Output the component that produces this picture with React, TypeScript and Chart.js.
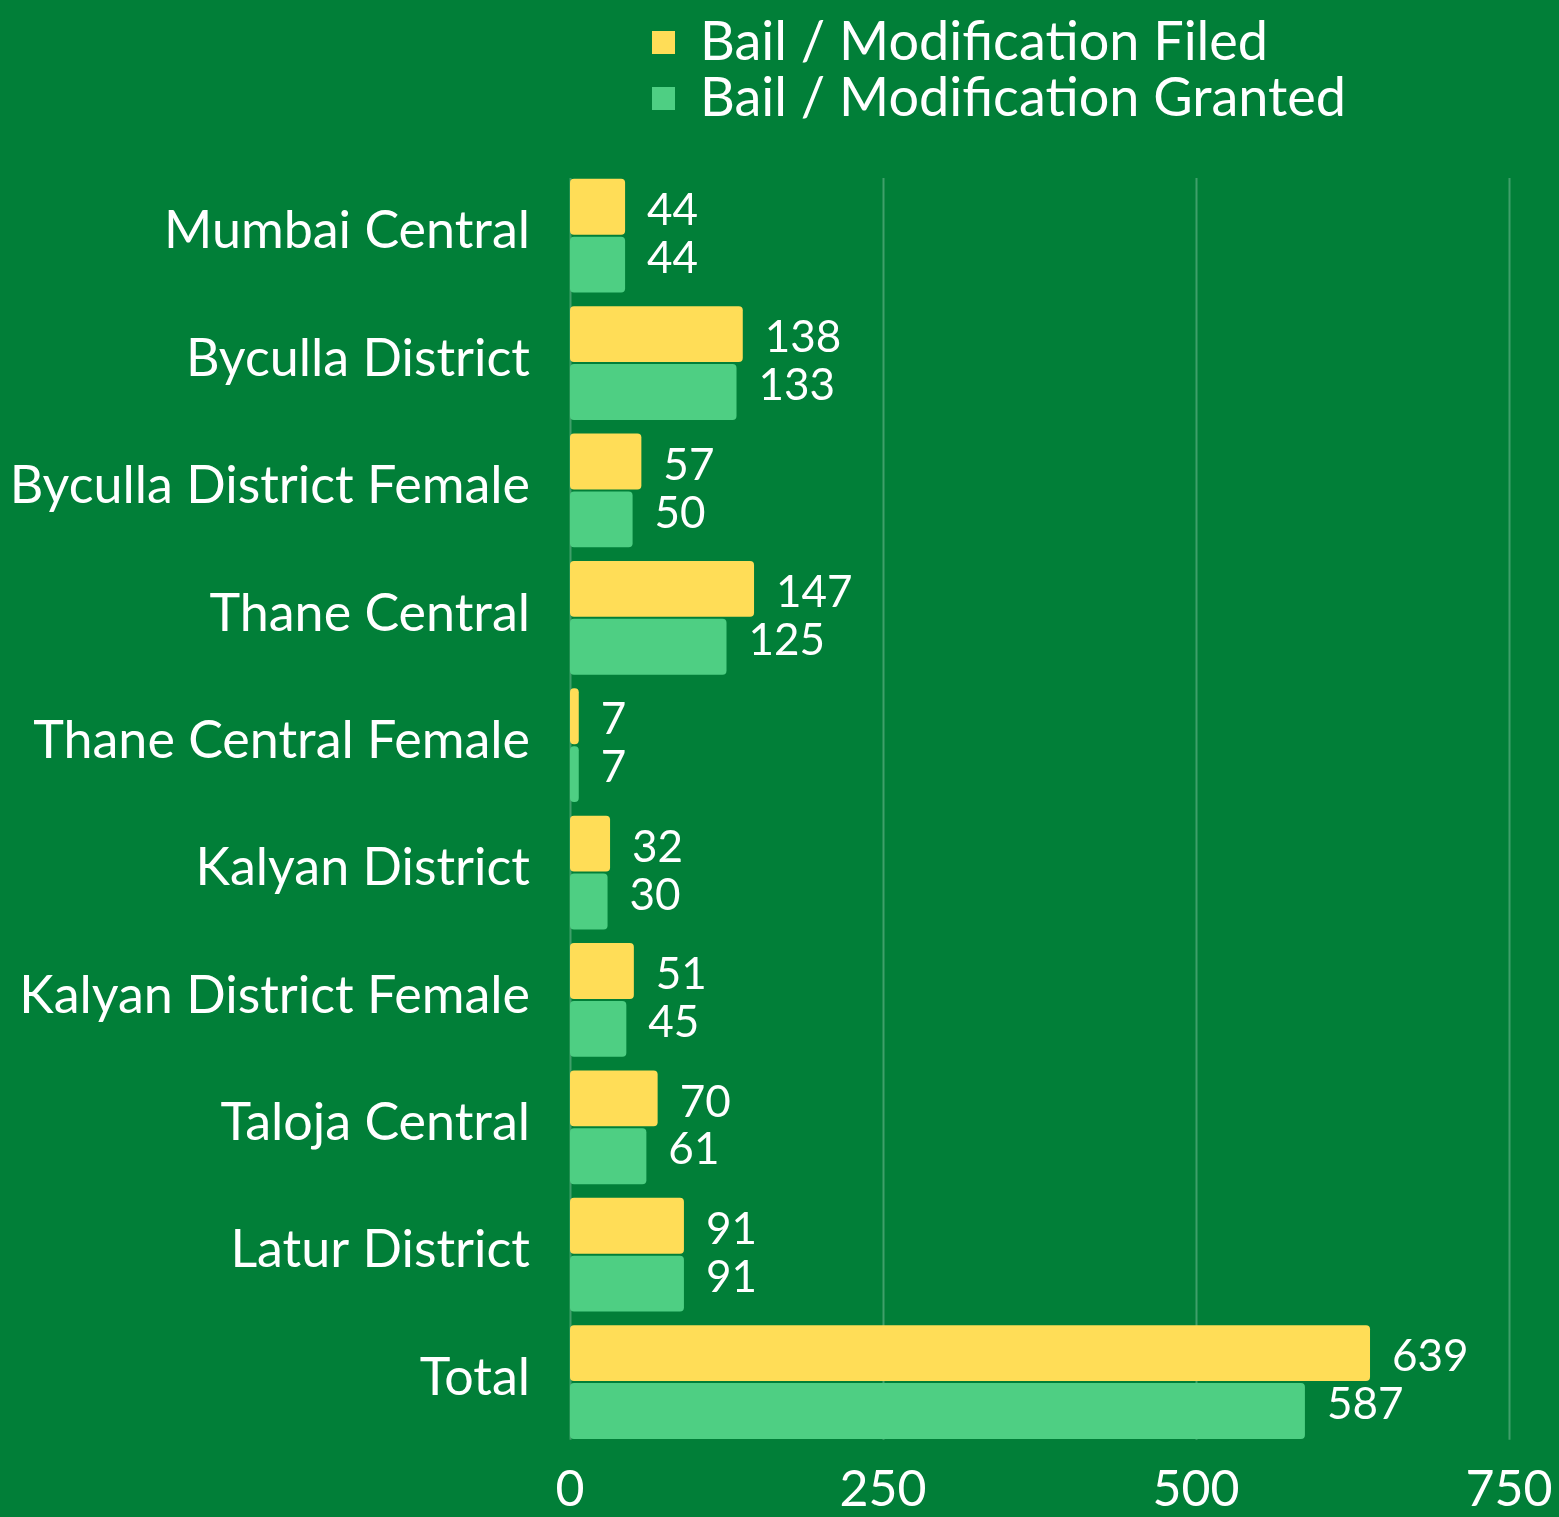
import React, { useEffect, useRef } from "react";
import { Chart, registerables } from "chart.js";
Chart.register(...registerables);

const categories = [
  "Mumbai Central",
  "Byculla District",
  "Byculla District Female",
  "Thane Central",
  "Thane Central Female",
  "Kalyan District",
  "Kalyan District Female",
  "Taloja Central",
  "Latur District",
  "Total",
];
const filed = [44, 138, 57, 147, 7, 32, 51, 70, 91, 639];
const granted = [44, 133, 50, 125, 7, 30, 45, 61, 91, 587];
const seriesNames = ["Bail / Modification Filed", "Bail / Modification Granted"];
const xTicks = [0, 250, 500, 750];

const BG = "#017f38";
const YELLOW = "#ffdd57";
const GREEN = "#4ecf83";
const FONT = "Lato, 'Open Sans', sans-serif";
const LABEL_DY = [4, -6];

export default function App() {
  const ref = useRef<HTMLCanvasElement | null>(null);
  useEffect(() => {
    const canvas = ref.current;
    if (!canvas) return;

    const bgPlugin = {
      id: "bg",
      beforeDraw(chart: any) {
        const c = chart.ctx;
        c.save();
        c.fillStyle = BG;
        c.fillRect(0, 0, chart.width, chart.height);
        c.restore();
      },
    };

    const gridPlugin = {
      id: "customGrid",
      beforeDatasetsDraw(chart: any) {
        const c = chart.ctx;
        const xs = chart.scales.x;
        const { top, bottom } = chart.chartArea;
        c.save();
        c.strokeStyle = "rgba(255,255,255,0.25)";
        c.lineWidth = 2;
        xTicks.forEach((v) => {
          const px = Math.round(xs.getPixelForValue(v)) + 0.5;
          c.beginPath();
          c.moveTo(px, top + 6);
          c.lineTo(px, bottom - 6);
          c.stroke();
        });
        c.restore();
      },
    };

    const labelPlugin = {
      id: "valueLabels",
      afterDatasetsDraw(chart: any) {
        const c = chart.ctx;
        c.save();
        c.fillStyle = "#ffffff";
        c.font = `44px ${FONT}`;
        c.textAlign = "left";
        c.textBaseline = "middle";
        chart.data.datasets.forEach((ds: any, di: number) => {
          const meta = chart.getDatasetMeta(di);
          meta.data.forEach((el: any, i: number) => {
            c.fillText(String(ds.data[i]), el.x + 22, el.y + LABEL_DY[di]);
          });
        });
        c.restore();
      },
    };

    const legendPlugin = {
      id: "customLegend",
      afterDraw(chart: any) {
        const c = chart.ctx;
        c.save();
        c.font = `54px ${FONT}`;
        c.textBaseline = "middle";
        c.textAlign = "left";
        chart.data.datasets.forEach((ds: any, i: number) => {
          const cy = 43 + i * 56;
          c.fillStyle = ds.backgroundColor;
          c.fillRect(652, cy - 12, 23, 23);
          c.fillStyle = "#ffffff";
          c.fillText(ds.label, 700, cy);
        });
        c.restore();
      },
    };

    const chart = new Chart(canvas, {
      type: "bar",
      data: {
        labels: categories,
        datasets: [
          {
            label: seriesNames[0],
            data: filed,
            backgroundColor: YELLOW,
            borderRadius: 4,
            borderSkipped: false,
            categoryPercentage: 0.909,
            barPercentage: 0.965,
          },
          {
            label: seriesNames[1],
            data: granted,
            backgroundColor: GREEN,
            borderRadius: 4,
            borderSkipped: false,
            categoryPercentage: 0.909,
            barPercentage: 0.965,
          },
        ],
      },
      options: {
        indexAxis: "y",
        responsive: false,
        maintainAspectRatio: false,
        animation: false,
        layout: { padding: { top: 172, right: 50, left: 0, bottom: 0 } },
        plugins: {
          legend: { display: false },
          tooltip: { enabled: false },
        },
        scales: {
          x: {
            min: 0,
            max: 750,
            afterBuildTicks: (s: any) => {
              s.ticks = xTicks.map((v) => ({ value: v }));
            },
            afterFit: (s: any) => {
              s.height = 69;
              s.paddingRight = 0;
              s.paddingLeft = 0;
            },
            grid: { display: false, drawTicks: false },
            border: { display: false },
            ticks: {
              color: "#ffffff",
              font: { family: FONT, size: 50 },
              padding: 14,
              maxRotation: 0,
              autoSkip: false,
            },
          },
          y: {
            afterFit: (s: any) => {
              s.width = 570;
            },
            grid: { display: false, drawTicks: false },
            border: { display: false },
            ticks: {
              color: "#ffffff",
              font: { family: FONT, size: 52 },
              padding: 40,
              labelOffset: -4,
              autoSkip: false,
            },
          },
        },
      },
      plugins: [bgPlugin, gridPlugin, labelPlugin, legendPlugin],
    } as any);
    return () => chart.destroy();
  }, []);

  return (
    <div style={{ position: "absolute", left: 0, top: 0, width: 1559, height: 1517 }}>
      <canvas ref={ref} width={1559} height={1517} style={{ display: "block" }} />
    </div>
  );
}
